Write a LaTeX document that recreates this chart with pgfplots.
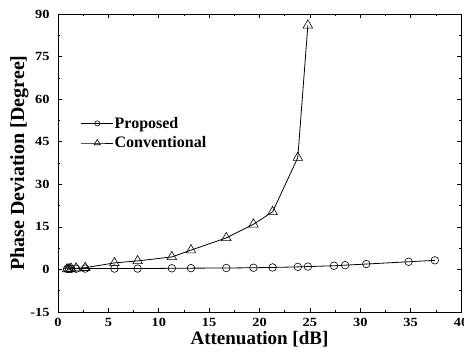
\documentclass[border=0pt]{standalone}
\usepackage{pgfplots}
\pgfplotsset{compat=1.18}
\usepackage{fontspec}
\setmainfont{Liberation Serif}
\newfontfamily\tickfont[FakeStretch=1.15]{Liberation Serif}
\begin{document}
\begin{tikzpicture}
\begin{axis}[
  scale only axis, width=403pt, height=298pt,
  xmin=0, xmax=40, ymin=-15, ymax=90,
  xtick={0,5,...,40}, ytick={-15,0,15,30,45,60,75,90},
  minor tick num=1,
  tick align=inside, major tick length=4pt, minor tick length=2pt,
  xtick pos=both, ytick pos=both,
  ticklabel pos=left,
  axis line style={line width=0.8pt},
  every tick/.style={line width=0.6pt, black},
  /pgf/number format/assume math mode=true,
  tick label style={font=\tickfont\fontsize{12.5}{15}\selectfont\bfseries},
  xticklabel style={yshift=-3pt},
  yticklabel style={xshift=-5pt},
  xlabel={Attenuation [dB]}, ylabel={Phase Deviation [Degree]},
  xlabel style={font=\fontsize{19}{22}\selectfont\bfseries, yshift=3pt},
  ylabel style={font=\fontsize{20}{22}\selectfont\bfseries, yshift=-5pt},
  legend style={at={(axis cs:2.25,48)}, anchor=west, draw=none, fill=none, inner sep=0pt,
    font=\fontsize{16}{18}\selectfont\bfseries, row sep=5pt,
    nodes={inner sep=1pt, xshift=1.5pt}},
  legend cell align=left,
  legend image code/.code={
    \draw[mark repeat=2, mark phase=2, #1] plot coordinates {(0pt,0pt) (16pt,0pt) (32pt,0pt)};
  },
]
\coordinate (sw) at (rel axis cs:0,0);
\coordinate (ne) at (rel axis cs:1,1);
\addplot[black, line width=0.8pt, mark=o, mark size=3.8pt, mark options={fill=white, line width=0.6pt},
  legend image post style={mark size=2.6pt}] coordinates {
(0.9,0.2)(1.1,0.2)(1.3,0.2)(1.8,0.25)(2.7,0.3)(5.6,0.3)(7.9,0.3)(11.3,0.4)(13.2,0.45)(16.7,0.5)(19.4,0.6)(21.3,0.7)(23.8,0.9)(24.8,1.0)(27.4,1.3)(28.5,1.5)(30.6,1.9)(34.8,2.7)(37.4,3.2)
};
\addlegendentry{Proposed}
\addplot[black, line width=0.8pt, mark=triangle, mark size=5.5pt, mark options={fill=white, line width=0.6pt},
  legend image post style={mark size=3.6pt}] coordinates {
(0.9,0.1)(1.1,0.2)(1.3,0.3)(1.8,0.4)(2.7,0.6)(5.6,2.3)(7.9,3.0)(11.3,4.4)(13.2,6.8)(16.7,11.1)(19.4,15.9)(21.3,20.3)(23.8,39.4)(24.8,86.0)
};
\addlegendentry{Conventional}
\end{axis}
\pgfresetboundingbox
\path ([shift={(-58pt,-47pt)}]sw) rectangle ([shift={(3pt,14pt)}]ne);
\end{tikzpicture}
\end{document}
